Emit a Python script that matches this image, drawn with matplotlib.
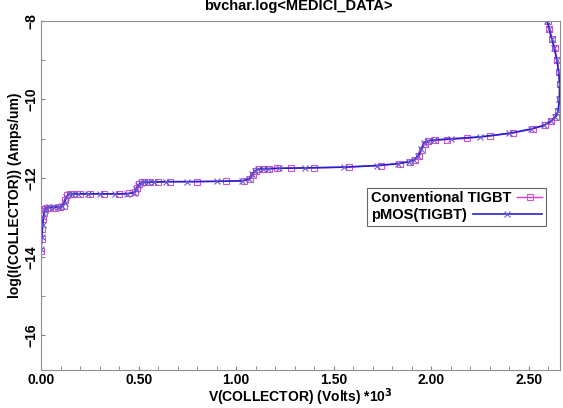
import matplotlib
matplotlib.use("Agg")
import matplotlib.pyplot as plt
from matplotlib.ticker import MultipleLocator
from matplotlib.legend_handler import HandlerLine2D

plt.rcParams['font.family'] = ['Liberation Sans', 'DejaVu Sans']
plt.rcParams['font.weight'] = 'bold'
plt.rcParams['axes.labelweight'] = 'bold'
plt.rcParams['mathtext.default'] = 'bf'

# breakdown sweep, V in kV, log10 of collector current
v_conv = [0.000, 0.003, 0.006, 0.010, 0.015, 0.022, 0.030, 0.045, 0.070, 0.095,
          0.115, 0.125, 0.135, 0.150, 0.170, 0.200, 0.250, 0.320, 0.400, 0.450,
          0.480, 0.492, 0.502, 0.515, 0.535, 0.560, 0.600, 0.660, 0.800, 0.950,
          1.040, 1.070, 1.085, 1.100, 1.115, 1.140, 1.170, 1.210, 1.280, 1.400,
          1.580, 1.740, 1.840, 1.890, 1.915, 1.935, 1.950, 1.965, 1.985, 2.020,
          2.080, 2.180, 2.300, 2.420, 2.520, 2.580, 2.615, 2.636, 2.650, 2.657,
          2.658, 2.653, 2.644, 2.632, 2.618, 2.605, 2.595]
i_conv = [-13.85, -13.55, -13.30, -13.05, -12.88, -12.78, -12.75, -12.75, -12.75, -12.74,
          -12.70, -12.55, -12.43, -12.40, -12.40, -12.40, -12.40, -12.40, -12.40, -12.39,
          -12.35, -12.25, -12.15, -12.11, -12.10, -12.10, -12.10, -12.09, -12.09, -12.08,
          -12.07, -12.03, -11.92, -11.82, -11.77, -11.76, -11.76, -11.75, -11.75, -11.74,
          -11.72, -11.68, -11.63, -11.58, -11.53, -11.45, -11.28, -11.12, -11.05, -11.03,
          -11.02, -10.99, -10.93, -10.85, -10.75, -10.66, -10.55, -10.45, -10.30, -10.00,
          -9.60, -9.30, -9.00, -8.70, -8.45, -8.20, -8.00]

v_pmos = [0.000, 0.004, 0.008, 0.012, 0.018, 0.026, 0.040, 0.060, 0.085, 0.108,
          0.120, 0.130, 0.142, 0.160, 0.190, 0.240, 0.300, 0.380, 0.440, 0.475,
          0.488, 0.498, 0.510, 0.528, 0.550, 0.580, 0.640, 0.750, 0.900, 1.030,
          1.065, 1.082, 1.097, 1.112, 1.135, 1.165, 1.220, 1.350, 1.550, 1.720,
          1.830, 1.885, 1.912, 1.932, 1.948, 1.962, 1.982, 2.015, 2.100, 2.250,
          2.400, 2.510, 2.575, 2.612, 2.634, 2.649, 2.656, 2.657, 2.652, 2.643,
          2.630, 2.616, 2.603, 2.593]
i_pmos = [-13.80, -13.50, -13.20, -12.98, -12.82, -12.76, -12.74, -12.74, -12.73, -12.72,
          -12.62, -12.47, -12.41, -12.40, -12.40, -12.40, -12.40, -12.40, -12.40, -12.37,
          -12.28, -12.18, -12.12, -12.10, -12.10, -12.10, -12.09, -12.09, -12.08, -12.07,
          -12.02, -11.90, -11.81, -11.77, -11.76, -11.76, -11.75, -11.74, -11.72, -11.68,
          -11.63, -11.58, -11.53, -11.44, -11.27, -11.11, -11.05, -11.03, -11.00, -10.95,
          -10.86, -10.75, -10.66, -10.55, -10.45, -10.30, -10.00, -9.60, -9.30, -9.00,
          -8.70, -8.45, -8.20, -8.00]

labels = ['Conventional TIGBT', 'pMOS(TIGBT)']


class LongLine(HandlerLine2D):
    # legend line that runs on to the right edge of the longer label row
    def __init__(self, extra, **kw):
        super().__init__(**kw)
        self.extra = extra

    def create_artists(self, legend, orig_handle, xdescent, ydescent,
                       width, height, fontsize, trans):
        return super().create_artists(legend, orig_handle, xdescent, ydescent,
                                      width + self.extra, height, fontsize, trans)


fig = plt.figure(figsize=(5.63, 4.08), dpi=100)
ax = fig.add_axes([0.073, 0.093, 0.922, 0.856])

l1, = ax.plot(v_conv, i_conv, color='#dd33dd', lw=1.0, marker='s', ms=5,
              mfc='none', mec='#cc55cc', mew=0.8, label=labels[0])
l2, = ax.plot(v_pmos, i_pmos, color='#2222cc', lw=1.2, marker='x', ms=5,
              mec='#6a5acd', mew=0.8, label=labels[1])

ax.set_xlim(0, 2.66)
ax.set_ylim(-16.88, -8)
ax.xaxis.set_major_locator(MultipleLocator(0.5))
ax.xaxis.set_minor_locator(MultipleLocator(0.1))
ax.yaxis.set_major_locator(MultipleLocator(2))
ax.yaxis.set_minor_locator(MultipleLocator(1))
ax.xaxis.set_major_formatter(plt.FormatStrFormatter('%.2f'))
ax.tick_params(which='both', direction='in', length=3, color='#808080',
               labelsize=10)
ax.tick_params(axis='x', pad=2)
ax.tick_params(axis='y', labelrotation=90, pad=2)
for lab in ax.get_yticklabels():
    lab.set_va('center')

for s in ax.spines.values():
    s.set_color('#909090')

ax.set_xlabel('V(COLLECTOR) (Volts) *10$^3$', fontsize=10, labelpad=0)
ax.set_ylabel('log(I(COLLECTOR)) (Amps/um)', fontsize=10, labelpad=2)

# measure label widths to line up the right ends of the legend lines
r = fig.canvas.get_renderer()
w = [fig.text(0, 0, s, fontsize=10.5) for s in labels]
px = [t.get_window_extent(r).width for t in w]
for t in w:
    t.remove()
extra = (px[0] - px[1]) * 72 / fig.dpi

leg = ax.legend([l1, l2], labels, loc='upper right',
                bbox_to_anchor=(0.972, 0.522),
                markerfirst=False, fancybox=False, frameon=True,
                fontsize=10.5, handlelength=1.7, borderpad=0.25,
                labelspacing=0.2, handletextpad=0.4, borderaxespad=0,
                handler_map={l2: LongLine(extra)})
for col in leg._legend_handle_box.get_children():
    col.align = 'left'
leg.get_frame().set_edgecolor('#404040')
leg.get_frame().set_linewidth(0.8)

fig.text(0.53, 0.975, 'bvchar.log<MEDICI_DATA>', ha='center',
         va='baseline', fontsize=10.5)

fig.savefig('out.png', dpi=100)
